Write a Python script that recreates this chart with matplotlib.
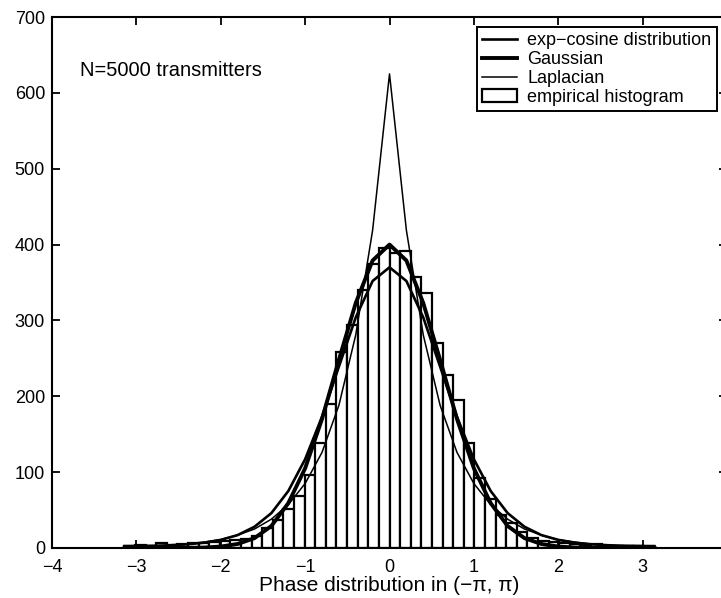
import numpy as np
import matplotlib
matplotlib.use("Agg")
import matplotlib.pyplot as plt

plt.rcParams['font.family'] = ['Liberation Sans', 'DejaVu Sans']

# histogram: 50 bins over (-pi, pi), counts
bin_edges = np.linspace(-np.pi, np.pi, 51)
hist_counts = [2, 4, 3, 6, 4, 5, 6, 6, 8, 9,
               11, 12, 16, 26, 37, 52, 68, 96, 138, 190,
               258, 294, 340, 375, 395, 389, 392, 357, 336, 270,
               228, 195, 138, 92, 64, 44, 33, 21, 13, 9,
               8, 6, 5, 4, 5, 3, 3, 2, 2, 1]

# fitted curves
curve_x = [-3.14, -3.0, -2.8, -2.6, -2.4, -2.2, -2.0, -1.8, -1.6, -1.4, -1.2, -1.0,
           -0.8, -0.6, -0.4, -0.2, 0.0, 0.2, 0.4, 0.6, 0.8, 1.0, 1.2, 1.4,
           1.6, 1.8, 2.0, 2.2, 2.4, 2.6, 2.8, 3.0, 3.14]
expcos_y = [2.5, 2.6, 2.9, 3.6, 4.8, 7.0, 10.7, 17, 28, 46, 75, 117,
            173, 239, 304, 352, 370, 352, 304, 239, 173, 117, 75, 46,
            28, 17, 10.7, 7.0, 4.8, 3.6, 2.9, 2.6, 2.5]
gauss_y = [0, 0, 0, 0, 0.2, 0.6, 1.9, 5.3, 13, 29, 59, 105,
           170, 248, 323, 379, 400, 379, 323, 248, 170, 105, 59, 29,
           13, 5.3, 1.9, 0.6, 0.2, 0, 0, 0, 0]
laplace_y = [1.2, 1.5, 2.3, 3.4, 5.1, 7.7, 11, 17, 25, 38, 57, 85,
             126, 188, 281, 419, 625, 419, 281, 188, 126, 85, 57, 38,
             25, 17, 11, 7.7, 5.1, 3.4, 2.3, 1.5, 1.2]

centers = (bin_edges[:-1] + bin_edges[1:]) / 2
width = bin_edges[1] - bin_edges[0]

fig = plt.figure(figsize=(7.21, 5.98), dpi=100)
ax = fig.add_axes([52 / 721, 1 - 548 / 598, 675 / 721, 531 / 598])

bars = ax.bar(centers, hist_counts, width=width, facecolor='white',
              edgecolor='black', linewidth=1.6, label='empirical histogram')
l1, = ax.plot(curve_x, expcos_y, color='black', lw=1.9, label='exp\u2212cosine distribution')
l2, = ax.plot(curve_x, gauss_y, color='black', lw=2.8, label='Gaussian')
l3, = ax.plot(curve_x, laplace_y, color='black', lw=1.1, label='Laplacian')

ax.set_xlim(-4, 4)
ax.set_ylim(0, 700)
ax.set_xticks(range(-4, 4))
ax.set_yticks(range(0, 701, 100))
ax.tick_params(direction='in', length=6, width=1.3, labelsize=13,
               top=True, right=True)
ax.tick_params(axis='x', pad=8)
ax.tick_params(axis='y', pad=5)
for s in ax.spines.values():
    s.set_linewidth(1.5)

ax.set_xlabel('Phase distribution in (\u2212\u03c0, \u03c0)', fontsize=15, labelpad=0)
ax.text(-3.67, 630, 'N=5000 transmitters', fontsize=14.5, va='center')

leg = ax.legend([l1, l2, l3, bars],
                ['exp\u2212cosine distribution', 'Gaussian', 'Laplacian', 'empirical histogram'],
                loc='upper right', bbox_to_anchor=(717 / 721, 1 - 27 / 598),
                bbox_transform=fig.transFigure, fontsize=13, frameon=True,
                fancybox=False, edgecolor='black', framealpha=1,
                handlelength=1.9, handletextpad=0.6, borderpad=0.3,
                labelspacing=0.1, borderaxespad=0)
leg.get_frame().set_linewidth(1.4)

fig.savefig('out.png', dpi=100)
